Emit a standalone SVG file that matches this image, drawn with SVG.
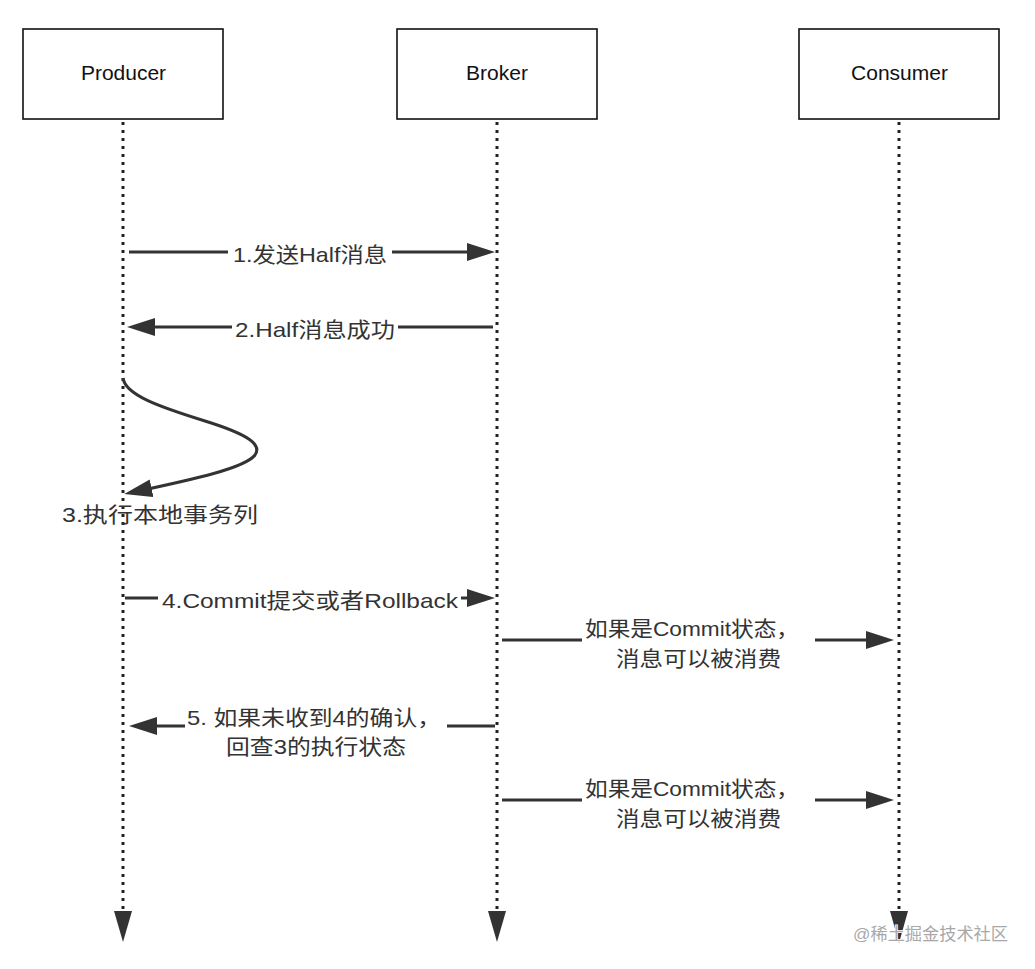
<svg xmlns="http://www.w3.org/2000/svg" width="1035" height="969" viewBox="0 0 1035 969">
<style>
.box{fill:#fff;stroke:#111;stroke-width:1.6}
.name{font-family:"Liberation Sans","Noto Sans CJK SC",sans-serif;font-size:21px;fill:#111;text-anchor:middle}
.lbl{font-family:"Liberation Sans","Noto Sans CJK SC",sans-serif;font-size:21px;fill:#333}
.life{stroke:#222;stroke-width:3;stroke-dasharray:3 5;fill:none}
.msg{stroke:#333;stroke-width:3;fill:none}
.head{fill:#333}
.wm{font-family:"Liberation Sans","Noto Sans CJK SC",sans-serif;font-size:17px;fill:#a8a8a8;stroke:#fff;stroke-width:1.5;paint-order:stroke}
</style>
<defs>
<marker id="arr" markerUnits="userSpaceOnUse" markerWidth="30" markerHeight="19" refX="18" refY="9" orient="auto">
<path d="M0,0 L28,9 L0,18 Z" class="head"/>
</marker>
</defs>
<rect width="1035" height="969" fill="#fff"/>
<g id="producer">
<rect class="box" x="23" y="29" width="200" height="90"/>
<text class="name" x="123.5" y="80">Producer</text>
</g>
<g id="broker">
<rect class="box" x="397" y="29" width="200" height="90"/>
<text class="name" x="497" y="80">Broker</text>
</g>
<g id="consumer">
<rect class="box" x="799" y="29" width="200" height="90"/>
<text class="name" x="899.5" y="80">Consumer</text>
</g>
<g id="lifelines">
<line class="life" x1="123" y1="122" x2="123" y2="910"/>
<line class="life" x1="497" y1="122" x2="497" y2="910"/>
<line class="life" x1="899" y1="122" x2="899" y2="910"/>
<polygon class="head" points="114,911 132,911 123,942"/>
<polygon class="head" points="488,911 506,911 497,942"/>
<polygon class="head" points="890,911 908,911 899,943"/>
</g>
<g id="connectors">
<line class="msg" x1="129" y1="252" x2="228" y2="252"/>
<line class="msg" x1="392" y1="252" x2="485" y2="252" marker-end="url(#arr)"/>
<line class="msg" x1="493" y1="327" x2="398" y2="327"/>
<line class="msg" x1="232" y1="327" x2="137" y2="327" marker-end="url(#arr)"/>
<path class="msg" d="M123,378 C125,395 160,407 205,421 C250,435 262,445 255,455 C245,468 195,479 134,492" marker-end="url(#arr)"/>
<line class="msg" x1="125" y1="598" x2="158" y2="598"/>
<line class="msg" x1="461" y1="598" x2="485" y2="598" marker-end="url(#arr)"/>
<line class="msg" x1="502" y1="640" x2="582" y2="640"/>
<line class="msg" x1="815" y1="640" x2="884" y2="640" marker-end="url(#arr)"/>
<line class="msg" x1="495" y1="726" x2="447" y2="726"/>
<line class="msg" x1="185" y1="726" x2="139" y2="726" marker-end="url(#arr)"/>
<line class="msg" x1="502" y1="800" x2="582" y2="800"/>
<line class="msg" x1="815" y1="800" x2="884" y2="800" marker-end="url(#arr)"/>
</g>
<g id="labels">
<text class="lbl" x="233" y="262" textLength="154" lengthAdjust="spacingAndGlyphs">1.发送Half消息</text>
<text class="lbl" x="235" y="337" textLength="160" lengthAdjust="spacingAndGlyphs">2.Half消息成功</text>
<text class="lbl" x="62" y="522" textLength="196" lengthAdjust="spacingAndGlyphs">3.执行本地事务列</text>
<text class="lbl" x="162" y="608" textLength="296" lengthAdjust="spacingAndGlyphs">4.Commit提交或者Rollback</text>
<text class="lbl" x="585" y="636" textLength="214" lengthAdjust="spacingAndGlyphs">如果是Commit状态，</text>
<text class="lbl" x="616" y="666" textLength="165" lengthAdjust="spacingAndGlyphs">消息可以被消费</text>
<text class="lbl" x="187" y="725" textLength="254" lengthAdjust="spacingAndGlyphs">5. 如果未收到4的确认，</text>
<text class="lbl" x="226" y="754" textLength="180" lengthAdjust="spacingAndGlyphs">回查3的执行状态</text>
<text class="lbl" x="585" y="796" textLength="214" lengthAdjust="spacingAndGlyphs">如果是Commit状态，</text>
<text class="lbl" x="616" y="826" textLength="165" lengthAdjust="spacingAndGlyphs">消息可以被消费</text>
</g>
<text class="wm" x="853" y="940" textLength="155" lengthAdjust="spacingAndGlyphs">@稀土掘金技术社区</text>
</svg>
